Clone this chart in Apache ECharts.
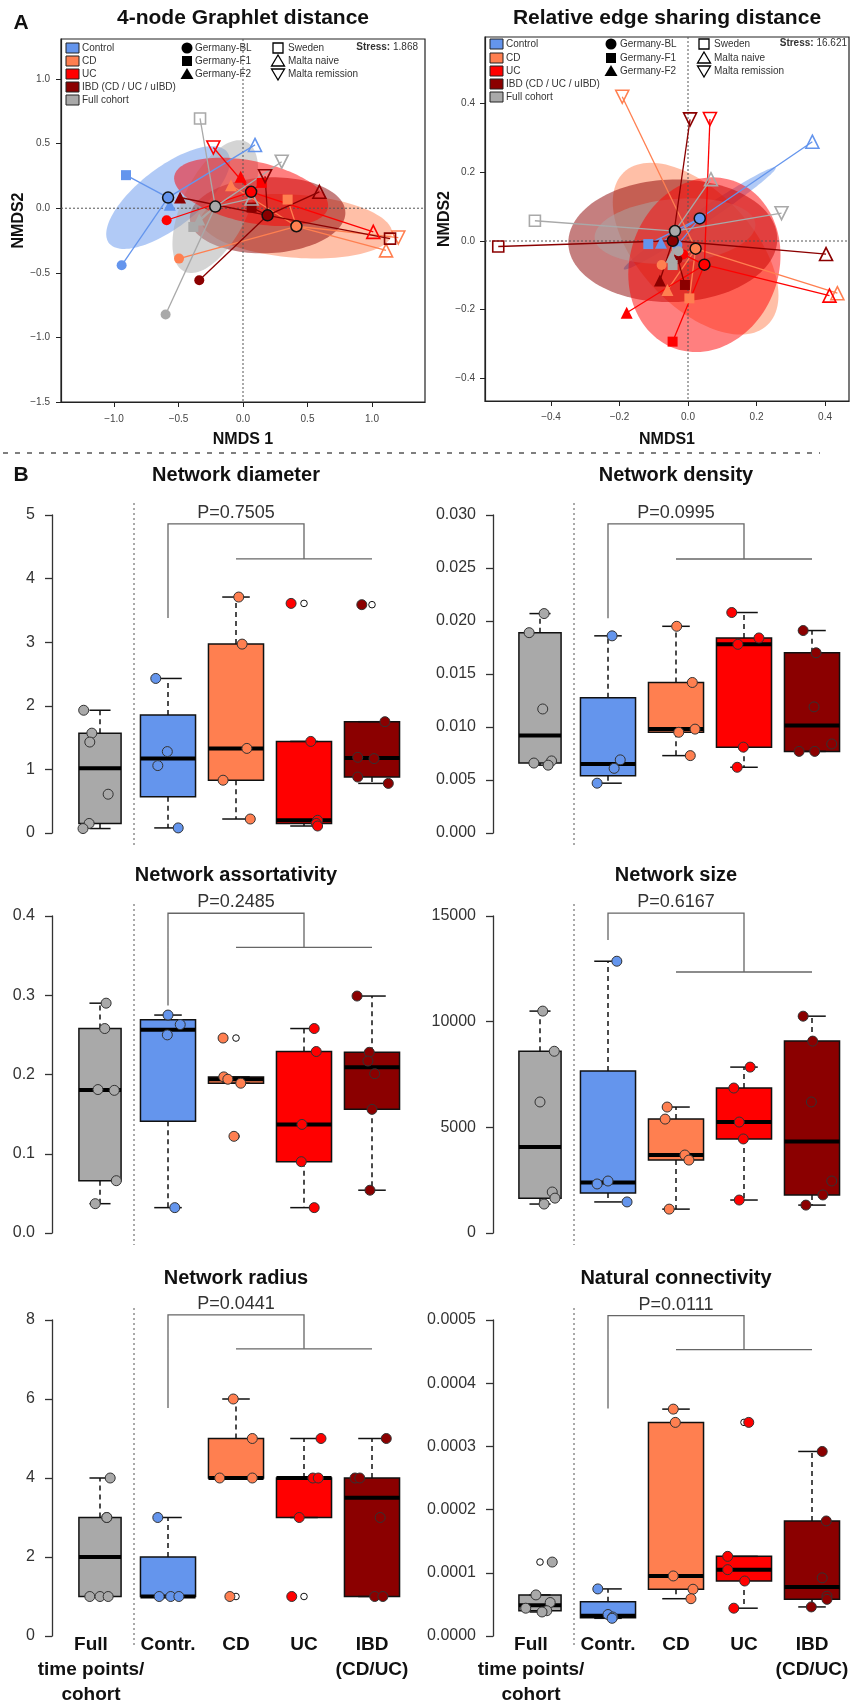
<!DOCTYPE html>
<html>
<head>
<meta charset="utf-8">
<title>Network ordination and network properties</title>
<script src="https://cdn.jsdelivr.net/npm/echarts@6/dist/echarts.min.js"></script>
<style>
html, body { margin: 0; padding: 0; background: #ffffff; }
#chart { width: 853px; height: 1707px; }
</style>
</head>
<body>
<div id="chart"></div>
<script>
// ---------- Panel A: NMDS coordinates, one row per network: [NMDS1, NMDS2, cohort index] ----------
const cohortNames = ['Germany-BL', 'Germany-F1', 'Germany-F2', 'Sweden', 'Malta naive', 'Malta remission'];
const groupNames = ['Control', 'CD', 'UC', 'IBD (CD / UC / uIBD)', 'Full cohort'];

const graphletControl = [[-0.941, -0.442, 0], [-0.907, 0.256, 1], [-0.568, 0.026, 2], [0.093, 0.490, 4]];
const graphletCD = [[-0.496, -0.390, 0], [0.346, 0.067, 1], [-0.093, 0.178, 2], [1.109, -0.326, 4], [1.204, -0.227, 5]];
const graphletUC = [[-0.592, -0.093, 0], [0.145, 0.196, 1], [-0.018, 0.243, 2], [1.010, -0.183, 4], [-0.230, 0.470, 5]];
const graphletIBD = [[-0.339, -0.558, 0], [0.067, 0.005, 1], [-0.488, 0.083, 2], [1.140, -0.235, 3], [0.592, 0.127, 4], [0.171, 0.248, 5]];
const graphletFull = [[-0.600, -0.822, 0], [-0.385, -0.145, 1], [-0.339, -0.088, 2], [-0.333, 0.695, 3], [0.067, 0.075, 4], [0.300, 0.360, 5]];
const graphletStress = '1.868';
const graphletXTicks = [-1, -0.5, 0, 0.5, 1];
const graphletYTicks = [-1.5, -1, -0.5, 0, 0.5, 1];

const edgeControl = [[-0.031, -0.012, 0], [-0.116, -0.009, 1], [-0.079, -0.005, 2], [0.363, 0.289, 4]];
const edgeCD = [[-0.077, -0.070, 0], [0.004, -0.167, 1], [-0.060, -0.143, 2], [0.436, -0.152, 4], [-0.192, 0.420, 5]];
const edgeUC = [[-0.014, -0.039, 0], [-0.045, -0.293, 1], [-0.179, -0.209, 2], [0.413, -0.159, 4], [0.064, 0.355, 5]];
const edgeIBD = [[-0.031, -0.053, 0], [-0.009, -0.128, 1], [-0.082, -0.115, 2], [-0.554, -0.016, 3], [0.403, -0.038, 4], [0.006, 0.354, 5]];
const edgeFull = [[-0.028, -0.030, 0], [-0.045, -0.070, 1], [-0.048, -0.046, 2], [-0.447, 0.059, 3], [0.067, 0.180, 4], [0.273, 0.081, 5]];
const edgeStress = '16.621';
const edgeXTicks = [-0.4, -0.2, 0, 0.2, 0.4];
const edgeYTicks = [-0.4, -0.2, 0, 0.2, 0.4];

// ---------- Panel B: per-group network properties ----------
// group order: Full time points/cohort, Control, CD, UC, IBD
const boxCategories = ['Full\ntime points/\ncohort', 'Contr.', 'CD', 'UC', 'IBD\n(CD/UC)'];

const diameterValues = [[1.93, 1.57, 1.43, 0.61, 0.15, 0.07], [2.43, 1.28, 1.06, 0.08], [3.71, 2.97, 1.33, 0.83, 0.22], [3.61, 1.44, 0.20, 0.15, 0.11], [3.59, 1.75, 1.19, 1.17, 0.88, 0.78]];
const diameterJitter = [[-0.24, -0.12, -0.15, 0.12, -0.16, -0.25], [-0.18, -0.01, -0.15, 0.15], [0.04, 0.09, 0.16, -0.19, 0.21], [-0.19, 0.10, 0.20, 0.18, 0.20], [-0.15, 0.19, -0.21, 0.03, -0.21, 0.24]];
const diameterBoxes = [[0.07, 0.15, 1.02, 1.57, 1.93], [0.08, 0.57, 1.17, 1.855, 2.43], [0.22, 0.83, 1.33, 2.97, 3.71], [0.11, 0.15, 0.20, 1.44, 1.44], [0.78, 0.88, 1.18, 1.75, 1.75]];
const diameterOutliers = [[], [], [], [3.61], [3.59]];
const diameterBracket = [4.86, 4.31, 3.38];
const diameterTicks = [0, 1, 2, 3, 4, 5];

const densityValues = [[0.0207, 0.0189, 0.0117, 0.0068, 0.0066, 0.0064], [0.0186, 0.0069, 0.0061, 0.0047], [0.0195, 0.0142, 0.0098, 0.0095, 0.0073], [0.0208, 0.0184, 0.0178, 0.0081, 0.0062], [0.0191, 0.0170, 0.0119, 0.0084, 0.0077, 0.0077]];
const densityJitter = [[0.06, -0.16, 0.04, 0.17, -0.09, 0.12], [0.06, 0.18, 0.09, -0.16], [0.01, 0.24, 0.28, 0.04, 0.21], [-0.18, 0.22, -0.09, -0.01, -0.10], [-0.13, 0.06, 0.03, 0.29, -0.19, 0.04]];
const densityBoxes = [[0.0064, 0.0066, 0.0092, 0.0189, 0.0207], [0.0047, 0.0054, 0.0065, 0.01275, 0.0186], [0.0073, 0.0095, 0.0098, 0.0142, 0.0195], [0.0062, 0.0081, 0.0178, 0.0184, 0.0208], [0.0077, 0.0077, 0.01015, 0.0170, 0.0191]];
const densityOutliers = [[], [], [], [], []];
const densityBracket = [0.02917, 0.02585, 0.02026];
const densityTicks = [0, 0.005, 0.01, 0.015, 0.02, 0.025, 0.03];

const assortValues = [[0.290, 0.258, 0.181, 0.180, 0.066, 0.037], [0.275, 0.263, 0.250, 0.032], [0.246, 0.197, 0.194, 0.189, 0.122], [0.258, 0.229, 0.137, 0.090, 0.032], [0.299, 0.228, 0.217, 0.201, 0.156, 0.054]];
const assortJitter = [[0.09, 0.07, -0.03, 0.21, 0.24, -0.07], [0, 0.18, -0.01, 0.10], [-0.19, -0.18, -0.12, 0.07, -0.03], [0.15, 0.18, -0.03, -0.04, 0.15], [-0.22, -0.04, -0.06, 0.04, 0, -0.03]];
const assortBoxes = [[0.037, 0.066, 0.1805, 0.258, 0.290], [0.032, 0.141, 0.2565, 0.269, 0.275], [0.189, 0.189, 0.194, 0.197, 0.197], [0.032, 0.090, 0.137, 0.229, 0.258], [0.054, 0.156, 0.209, 0.228, 0.299]];
const assortOutliers = [[], [], [0.246, 0.122], [], []];
const assortBracket = [0.4035, 0.3605, 0.287];
const assortTicks = [0, 0.1, 0.2, 0.3, 0.4];

const sizeValues = [[10500, 8600, 6200, 1940, 1650, 1370], [12860, 2460, 2320, 1470], [5960, 5390, 3690, 3450, 1130], [7850, 6860, 5250, 4450, 1560], [10260, 9080, 6200, 2460, 1800, 1320]];
const sizeJitter = [[0.04, 0.21, 0, 0.18, 0.22, 0.06], [0.13, 0, -0.16, 0.28], [-0.13, -0.16, 0.13, 0.19, -0.10], [0.09, -0.15, -0.07, -0.01, -0.07], [-0.13, 0.01, -0.01, 0.29, 0.16, -0.09]];
const sizeBoxes = [[1370, 1650, 4070, 8600, 10500], [1470, 1895, 2390, 7660, 12860], [1130, 3450, 3690, 5390, 5960], [1560, 4450, 5250, 6860, 7850], [1320, 1800, 4330, 9080, 10260]];
const sizeOutliers = [[], [], [], [], []];
const sizeBracket = [15140, 12350, 13860];
const sizeTicks = [0, 5000, 10000, 15000];

const radiusValues = [[4, 3, 3, 1, 1, 1], [3, 1, 1, 1], [6, 5, 4, 4, 1], [5, 4, 4, 3, 1], [5, 4, 4, 3, 1, 1]];
const radiusJitter = [[0.15, 0.10, 0.10, -0.15, 0, 0.12], [-0.15, -0.13, 0.04, 0.16], [-0.04, 0.24, -0.24, 0.24, -0.09], [0.25, 0.13, 0.21, -0.07, -0.18], [0.21, -0.25, -0.18, 0.12, 0.04, 0.16]];
const radiusBoxes = [[1, 1, 2, 3, 4], [1, 1, 1, 2, 3], [4, 4, 4, 5, 6], [3, 3, 4, 4, 5], [1, 1, 3.5, 4, 5]];
const radiusOutliers = [[], [], [1], [1], []];
const radiusBracket = [8.13, 7.27, 5.77];
const radiusTicks = [0, 2, 4, 6, 8];

const connValues = [[0.000117, 0.000065, 0.000053, 0.000044, 0.000040, 0.000038], [0.0000745, 0.000034, 0.000030, 0.000028], [0.000359, 0.000338, 0.000095, 0.000074, 0.000059], [0.000338, 0.000126, 0.000105, 0.000087, 0.000044], [0.000292, 0.000182, 0.000092, 0.000063, 0.000058, 0.000046]];
const connJitter = [[0.18, -0.06, 0.15, -0.21, 0.10, 0.03], [-0.15, 0, 0.07, 0.06], [-0.04, -0.01, -0.04, 0.25, 0.22], [0.07, -0.24, -0.24, 0.01, -0.15], [0.15, 0.21, 0.15, 0.22, 0.22, -0.01]];
const connBoxes = [[0.000038, 0.000040, 0.0000485, 0.000065, 0.000065], [0.000028, 0.000029, 0.000032, 0.000054, 0.0000745], [0.000059, 0.000074, 0.000095, 0.000338, 0.000359], [0.000044, 0.000087, 0.000105, 0.000126, 0.000126], [0.000046, 0.000058, 0.0000775, 0.000182, 0.000292]];
const connOutliers = [[0.000117], [], [], [0.000338], []];
const connBracket = [0.000507, 0.000453, 0.00036];
const connTicks = [0, 0.0001, 0.0002, 0.0003, 0.0004, 0.0005];

// ---------- styling ----------
const FONT = '"Liberation Sans", Arial, Helvetica, sans-serif';
const nmdsColors = ['#6495ED', '#FF7F50', '#FF0000', '#8B0000', '#A9A9A9'];
const boxColors = ['#A9A9A9', '#6495ED', '#FF7F50', '#FF0000', '#8B0000'];
const ellipseOrder = [0, 1, 3, 4, 2];
const cohortSymbols = ['circle', 'rect', 'triangle', 'rect', 'triangle', 'triangle'];
const cohortSizes = [10, 10, 12, 11, 13, 13];
const cohortOpen = [false, false, false, true, true, true];

function rgba(hex, a) {
  const n = parseInt(hex.slice(1), 16);
  return 'rgba(' + ((n >> 16) & 255) + ',' + ((n >> 8) & 255) + ',' + (n & 255) + ',' + a + ')';
}
function centroid(pts) {
  let sx = 0, sy = 0;
  pts.forEach(p => { sx += p[0]; sy += p[1]; });
  return [sx / pts.length, sy / pts.length];
}
// one-standard-deviation dispersion ellipse of a group
function sdEllipse(pts) {
  const c = centroid(pts), n = pts.length;
  let sxx = 0, syy = 0, sxy = 0;
  pts.forEach(p => { const dx = p[0] - c[0], dy = p[1] - c[1]; sxx += dx * dx; syy += dy * dy; sxy += dx * dy; });
  sxx /= (n - 1); syy /= (n - 1); sxy /= (n - 1);
  const a = Math.sqrt(sxx), b = sxy / a, d = Math.sqrt(Math.max(syy - b * b, 0));
  const ring = [];
  for (let k = 0; k < 120; k++) {
    const t = 2 * Math.PI * k / 120;
    ring.push([c[0] + a * Math.cos(t), c[1] + b * Math.cos(t) + d * Math.sin(t)]);
  }
  return ring;
}
function signed(v) {
  const s = Math.abs(v).toFixed(1);
  return v < -1e-9 ? '\u2212' + s : s;
}
function textEl(x, y, text, font, fill, align, extra) {
  return Object.assign({
    type: 'text', x: x, y: y, silent: true,
    style: { text: text, font: font, fill: fill, align: align, textAlign: align, verticalAlign: 'middle', textVerticalAlign: 'middle' }
  }, extra || {});
}

const grid = [], xAxis = [], yAxis = [], series = [], graphic = [];

// ---------- Panel A ----------
const nmdsPanels = [
  { box: { left: 61, top: 39, width: 364, height: 363 }, x: [-1.411, 1.411], y: [-1.5, 1.31],
    xTicks: graphletXTicks, yTicks: graphletYTicks, xMargin: 12, yMargin: 11,
    groups: [graphletControl, graphletCD, graphletUC, graphletIBD, graphletFull],
    title: '4-node Graphlet distance', xName: 'NMDS 1', yNameX: 19, stress: graphletStress,
    legend: { sqX: 66, t1: 82, rows: [48, 61, 74, 87, 100], c2: 187, t2: 195, c3: 278, t3: 288, sx: 418, sy: 47 } },
  { box: { left: 485, top: 37, width: 364, height: 364 }, x: [-0.5927, 0.470], y: [-0.4658, 0.5939],
    xTicks: edgeXTicks, yTicks: edgeYTicks, xMargin: 11, yMargin: 10,
    groups: [edgeControl, edgeCD, edgeUC, edgeIBD, edgeFull],
    title: 'Relative edge sharing distance', xName: 'NMDS1', yNameX: 445, stress: edgeStress,
    legend: { sqX: 490, t1: 506, rows: [44, 58, 71, 84, 97], c2: 611, t2: 620, c3: 704, t3: 714, sx: 847, sy: 43 } }
];

nmdsPanels.forEach((P, i) => {
  grid.push(Object.assign({ show: true, borderColor: '#222', borderWidth: 1.2, backgroundColor: 'transparent' }, P.box));
  xAxis.push({
    gridIndex: i, type: 'value', min: P.x[0], max: P.x[1], splitLine: { show: false },
    axisLine: { show: true, onZero: false, lineStyle: { color: '#222', width: 1.2 } },
    axisTick: { show: true, length: 5, customValues: P.xTicks, lineStyle: { color: '#222' } },
    axisLabel: { show: true, customValues: P.xTicks, formatter: signed, fontSize: 10, color: '#444', margin: P.xMargin, fontFamily: FONT }
  });
  yAxis.push({
    gridIndex: i, type: 'value', min: P.y[0], max: P.y[1], splitLine: { show: false },
    axisLine: { show: true, onZero: false, lineStyle: { color: '#222', width: 1.2 } },
    axisTick: { show: true, length: 5, customValues: P.yTicks, lineStyle: { color: '#222' } },
    axisLabel: { show: true, customValues: P.yTicks, formatter: signed, fontSize: 10, color: '#444', margin: P.yMargin, fontFamily: FONT }
  });
  const cents = P.groups.map(centroid);

  // dispersion ellipses
  series.push({
    type: 'custom', xAxisIndex: i, yAxisIndex: i, silent: true, clip: true,
    data: ellipseOrder.map(g => [cents[g][0], cents[g][1], g]),
    renderItem: (params, api) => {
      const g = api.value(2);
      return { type: 'polygon', shape: { points: sdEllipse(P.groups[g]).map(p => api.coord(p)) },
        style: { fill: rgba(nmdsColors[g], 0.5), stroke: null } };
    }
  });
  // zero reference lines
  series.push({
    type: 'custom', xAxisIndex: i, yAxisIndex: i, silent: true, clip: true, data: [[0, 0]],
    renderItem: (params, api) => {
      const cs = params.coordSys, o = api.coord([0, 0]);
      const st = { stroke: '#555', lineWidth: 1, lineDash: [2, 2] };
      return { type: 'group', children: [
        { type: 'line', shape: { x1: o[0], y1: cs.y, x2: o[0], y2: cs.y + cs.height }, style: st },
        { type: 'line', shape: { x1: cs.x, y1: o[1], x2: cs.x + cs.width, y2: o[1] }, style: st }
      ] };
    }
  });
  // spider lines from each group centroid to its members
  series.push({
    type: 'custom', xAxisIndex: i, yAxisIndex: i, silent: true, clip: true,
    data: cents.map((c, g) => [c[0], c[1], g]),
    renderItem: (params, api) => {
      const g = api.value(2), c = api.coord([api.value(0), api.value(1)]);
      return { type: 'group', children: P.groups[g].map(p => {
        const q = api.coord([p[0], p[1]]);
        return { type: 'line', shape: { x1: c[0], y1: c[1], x2: q[0], y2: q[1] }, style: { stroke: nmdsColors[g], lineWidth: 1.3 } };
      }) };
    }
  });
  // samples
  P.groups.forEach((pts, g) => {
    series.push({
      type: 'scatter', xAxisIndex: i, yAxisIndex: i, silent: true,
      data: pts.map(p => {
        const c = p[2];
        return {
          value: [p[0], p[1]], symbol: cohortSymbols[c], symbolSize: cohortSizes[c], symbolRotate: c === 5 ? 180 : 0,
          itemStyle: cohortOpen[c]
            ? { color: 'rgba(255,255,255,0)', borderColor: nmdsColors[g], borderWidth: 1.6, opacity: 1 }
            : { color: nmdsColors[g], borderWidth: 0, opacity: 1 }
        };
      })
    });
  });
  // group centroids
  series.push({
    type: 'scatter', xAxisIndex: i, yAxisIndex: i, silent: true, symbol: 'circle', symbolSize: 11,
    data: cents.map((c, g) => ({ value: c, itemStyle: { color: nmdsColors[g], borderColor: '#111', borderWidth: 1.5, opacity: 1 } }))
  });

  // titles and axis names
  const cx = P.box.left + P.box.width / 2, cy = P.box.top + P.box.height / 2;
  graphic.push(textEl(cx, 18, P.title, 'bold 21px ' + FONT, '#111', 'center'));
  graphic.push(textEl(cx, 440, P.xName, 'bold 16px ' + FONT, '#111', 'center'));
  graphic.push(textEl(P.yNameX, cy, 'NMDS2', 'bold 16px ' + FONT, '#111', 'center', { rotation: Math.PI / 2 }));

  // legend
  const L = P.legend, lf = '10px ' + FONT;
  groupNames.forEach((name, k) => {
    const y = L.rows[k];
    graphic.push({ type: 'rect', silent: true, shape: { x: L.sqX, y: y - 5, width: 13, height: 10 }, style: { fill: nmdsColors[k], stroke: '#222', lineWidth: 1 } });
    graphic.push(textEl(L.t1, y, name, lf, '#333', 'left'));
  });
  cohortNames.forEach((name, k) => {
    const x = k < 3 ? L.c2 : L.c3, tx = k < 3 ? L.t2 : L.t3, y = L.rows[k % 3];
    const solid = { fill: '#000' }, open = { fill: 'none', stroke: '#000', lineWidth: 1.3 };
    const st = k < 3 ? solid : open;
    let el;
    if (k === 0) el = { type: 'circle', shape: { cx: x, cy: y, r: 5.5 }, style: st };
    else if (k === 1 || k === 3) el = { type: 'rect', shape: { x: x - 5, y: y - 5, width: 10, height: 10 }, style: st };
    else if (k === 2 || k === 4) el = { type: 'polygon', shape: { points: [[x, y - 6], [x + 6.5, y + 5], [x - 6.5, y + 5]] }, style: st };
    else el = { type: 'polygon', shape: { points: [[x, y + 6], [x + 6.5, y - 5], [x - 6.5, y - 5]] }, style: st };
    el.silent = true;
    graphic.push(el);
    graphic.push(textEl(tx, y, name, lf, '#333', 'left'));
  });
  graphic.push({
    type: 'text', x: L.sx, y: L.sy, silent: true,
    style: { text: '{b|Stress:} ' + P.stress, font: lf, fill: '#333', align: 'right', textAlign: 'right', verticalAlign: 'middle', textVerticalAlign: 'middle',
      rich: { b: { fontWeight: 'bold', fontSize: 10, fontFamily: FONT, fill: '#333' } } }
  });
});

// ---------- Panel B ----------
const CAT_PX = 68;
const colLeft = [52, 493], colWidth = [361, 360], colMinX = [1 - 48 / 68, 1 - 47 / 68], colCenter = [236, 676];
const rowTop = [515, 916, 1320], rowHeight = [318, 317, 316], titleY = [475, 875, 1278];
const firstLabelShift = -9;

const boxPanels = [
  { title: 'Network diameter', p: 'P=0.7505', values: diameterValues, jitter: diameterJitter, boxes: diameterBoxes, outliers: diameterOutliers, bracket: diameterBracket, ticks: diameterTicks, digits: 0 },
  { title: 'Network density', p: 'P=0.0995', values: densityValues, jitter: densityJitter, boxes: densityBoxes, outliers: densityOutliers, bracket: densityBracket, ticks: densityTicks, digits: 3 },
  { title: 'Network assortativity', p: 'P=0.2485', values: assortValues, jitter: assortJitter, boxes: assortBoxes, outliers: assortOutliers, bracket: assortBracket, ticks: assortTicks, digits: 1 },
  { title: 'Network size', p: 'P=0.6167', values: sizeValues, jitter: sizeJitter, boxes: sizeBoxes, outliers: sizeOutliers, bracket: sizeBracket, ticks: sizeTicks, digits: 0 },
  { title: 'Network radius', p: 'P=0.0441', values: radiusValues, jitter: radiusJitter, boxes: radiusBoxes, outliers: radiusOutliers, bracket: radiusBracket, ticks: radiusTicks, digits: 0 },
  { title: 'Natural connectivity', p: 'P=0.0111', values: connValues, jitter: connJitter, boxes: connBoxes, outliers: connOutliers, bracket: connBracket, ticks: connTicks, digits: 4 }
];

boxPanels.forEach((P, k) => {
  const gi = 2 + k, col = k % 2, row = Math.floor(k / 2);
  const yMax = P.ticks[P.ticks.length - 1];
  grid.push({ left: colLeft[col], top: rowTop[row], width: colWidth[col], height: rowHeight[row] });
  xAxis.push({ gridIndex: gi, type: 'value', show: false, min: colMinX[col], max: colMinX[col] + colWidth[col] / CAT_PX });
  yAxis.push({
    gridIndex: gi, type: 'value', min: 0, max: yMax, interval: P.ticks[1] - P.ticks[0], splitLine: { show: false },
    axisLine: { show: true, onZero: false, lineStyle: { color: '#333', width: 1.3 } },
    axisTick: { show: true, length: 7, customValues: P.ticks, lineStyle: { color: '#333', width: 1.3 } },
    axisLabel: { show: true, customValues: P.ticks, formatter: v => v.toFixed(P.digits), fontSize: 16, color: '#333', margin: 17, fontFamily: FONT }
  });

  // boxes, whiskers, outliers, and (bottom row) category labels
  series.push({
    type: 'custom', xAxisIndex: gi, yAxisIndex: gi, silent: true, clip: false,
    data: P.boxes.map((b, g) => [g + 1, b[0], b[1], b[2], b[3], b[4], g]),
    renderItem: (params, api) => {
      const g = api.value(6), x = api.value(0);
      const w = api.size([g === 0 ? 0.62 : 0.81, 0])[0];
      const lo = api.coord([x, api.value(1)]), q1 = api.coord([x, api.value(2)]), md = api.coord([x, api.value(3)]);
      const q3 = api.coord([x, api.value(4)]), hi = api.coord([x, api.value(5)]);
      const cx = q1[0], cap = w / 4;
      const solid = { stroke: '#111', lineWidth: 1.5 };
      const dash = { stroke: '#111', lineWidth: 1.5, lineDash: [5, 4] };
      const kids = [
        { type: 'rect', shape: { x: cx - w / 2, y: q3[1], width: w, height: q1[1] - q3[1] }, style: { fill: boxColors[g], stroke: '#111', lineWidth: 1.5 } }
      ];
      if (hi[1] < q3[1] - 0.5) kids.push({ type: 'line', shape: { x1: cx, y1: q3[1], x2: cx, y2: hi[1] }, style: dash });
      if (lo[1] > q1[1] + 0.5) kids.push({ type: 'line', shape: { x1: cx, y1: q1[1], x2: cx, y2: lo[1] }, style: dash });
      kids.push({ type: 'line', shape: { x1: cx - cap, y1: hi[1], x2: cx + cap, y2: hi[1] }, style: solid });
      kids.push({ type: 'line', shape: { x1: cx - cap, y1: lo[1], x2: cx + cap, y2: lo[1] }, style: solid });
      kids.push({ type: 'line', shape: { x1: cx - w / 2, y1: md[1], x2: cx + w / 2, y2: md[1] }, style: { stroke: '#000', lineWidth: 4 } });
      P.outliers[g].forEach(v => {
        const o = api.coord([x, v]);
        kids.push({ type: 'circle', shape: { cx: o[0], cy: o[1], r: 3.3 }, style: { fill: '#fff', stroke: '#111', lineWidth: 1 } });
      });
      if (row === 2) {
        const base = api.coord([x, 0]);
        kids.push({ type: 'text', style: {
          text: boxCategories[g], x: cx + (g === 0 ? firstLabelShift : 0), y: base[1] - 4, font: 'bold 19px ' + FONT, fill: '#111',
          lineHeight: 25, align: 'center', textAlign: 'center', verticalAlign: 'top', textVerticalAlign: 'top' } });
      }
      return { type: 'group', children: kids };
    }
  });

  // group separator, comparison bracket and P value
  series.push({
    type: 'custom', xAxisIndex: gi, yAxisIndex: gi, silent: true, clip: false,
    data: [[2, P.bracket[0], P.bracket[1], P.bracket[2]]],
    renderItem: (params, api) => {
      const top = api.value(1), mid = api.value(2), lb = api.value(3);
      const a = api.coord([2, top]), b = api.coord([4, top]), c = api.coord([4, mid]);
      const d = api.coord([3, mid]), e = api.coord([5, mid]), f = api.coord([2, lb]);
      const s0 = api.coord([1.5, yMax]), s1 = api.coord([1.5, 0]);
      const st = { stroke: '#666', lineWidth: 1.3, fill: 'none' };
      return { type: 'group', children: [
        { type: 'line', shape: { x1: s0[0], y1: s0[1] - 12, x2: s1[0], y2: s1[1] + 12 }, style: { stroke: '#555', lineWidth: 1, lineDash: [2, 3] } },
        { type: 'polyline', shape: { points: [f, a, b, c] }, style: st },
        { type: 'line', shape: { x1: d[0], y1: d[1], x2: e[0], y2: e[1] }, style: st },
        { type: 'text', style: { text: P.p, x: (a[0] + b[0]) / 2, y: a[1] - 11, font: '18px ' + FONT, fill: '#333',
          align: 'center', textAlign: 'center', verticalAlign: 'middle', textVerticalAlign: 'middle' } }
      ] };
    }
  });

  // individual networks
  const pts = [];
  P.values.forEach((vals, g) => vals.forEach((v, j) => {
    pts.push({ value: [g + 1 + P.jitter[g][j], v], itemStyle: { color: boxColors[g] } });
  }));
  series.push({
    type: 'scatter', xAxisIndex: gi, yAxisIndex: gi, silent: true, symbol: 'circle', symbolSize: 10,
    itemStyle: { borderColor: '#333', borderWidth: 1, opacity: 1 }, data: pts
  });

  graphic.push(textEl(colCenter[col], titleY[row], P.title, 'bold 20px ' + FONT, '#111', 'center'));
});

// panel letters and divider
graphic.push(textEl(21, 23, 'A', 'bold 21px ' + FONT, '#111', 'center'));
graphic.push(textEl(21, 475, 'B', 'bold 21px ' + FONT, '#111', 'center'));
graphic.push({ type: 'line', silent: true, shape: { x1: 3, y1: 453, x2: 820, y2: 453 }, style: { stroke: '#555', lineWidth: 1.3, lineDash: [5, 7] } });

const chart = echarts.init(document.getElementById('chart'), null, { renderer: 'canvas', width: 853, height: 1707 });
chart.setOption({
  animation: false,
  backgroundColor: '#ffffff',
  textStyle: { fontFamily: FONT },
  grid: grid, xAxis: xAxis, yAxis: yAxis, series: series, graphic: graphic
});
</script>
</body>
</html>
